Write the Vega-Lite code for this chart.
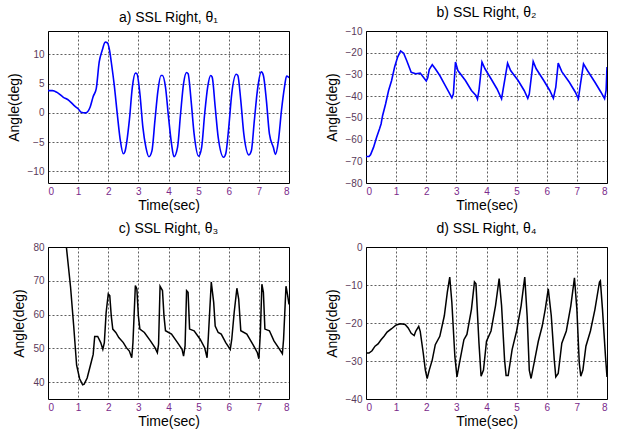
{
  "$schema": "https://vega.github.io/schema/vega-lite/v6.json",
  "padding": {"left": 6, "top": 5, "right": 5, "bottom": 5},
  "background": "white",
  "datasets": {
    "a": [{"t":0,"v":3.8},{"t":0.15,"v":3.8},{"t":0.3,"v":3.5},{"t":0.5,"v":2.7},{"t":0.7,"v":2.1},{"t":0.9,"v":1.1},{"t":1.0,"v":0.7},{"t":1.1,"v":0.1},{"t":1.25,"v":0},{"t":1.4,"v":1.0},{"t":1.5,"v":2.8},{"t":1.6,"v":4.1},{"t":1.7,"v":8.7},{"t":1.8,"v":10.7},{"t":1.9,"v":12.1},{"t":1.97,"v":12.0},{"t":2.05,"v":10.5},{"t":2.1,"v":8.7},{"t":2.2,"v":4.7},{"t":2.3,"v":-0.2},{"t":2.4,"v":-4.7},{"t":2.5,"v":-7.0},{"t":2.55,"v":-6.7},{"t":2.7,"v":-1.3},{"t":2.8,"v":4.4},{"t":2.9,"v":6.8},{"t":2.95,"v":6.7},{"t":3.05,"v":3.3},{"t":3.15,"v":-2.5},{"t":3.25,"v":-5.9},{"t":3.35,"v":-7.5},{"t":3.45,"v":-6.5},{"t":3.55,"v":-1.3},{"t":3.65,"v":3.8},{"t":3.75,"v":6.4},{"t":3.8,"v":6.4},{"t":3.9,"v":4.4},{"t":4.0,"v":-0.7},{"t":4.1,"v":-5.3},{"t":4.18,"v":-7.5},{"t":4.3,"v":-5.9},{"t":4.4,"v":-0.2},{"t":4.5,"v":5.0},{"t":4.6,"v":6.9},{"t":4.65,"v":6.7},{"t":4.75,"v":2.1},{"t":4.85,"v":-3.6},{"t":5.0,"v":-7.4},{"t":5.1,"v":-5.9},{"t":5.2,"v":-0.2},{"t":5.3,"v":4.4},{"t":5.4,"v":6.4},{"t":5.45,"v":6.1},{"t":5.55,"v":1.0},{"t":5.65,"v":-4.2},{"t":5.83,"v":-7.6},{"t":5.9,"v":-7.0},{"t":6.0,"v":-2.5},{"t":6.1,"v":3.3},{"t":6.25,"v":6.6},{"t":6.3,"v":6.4},{"t":6.4,"v":2.1},{"t":6.5,"v":-3.6},{"t":6.67,"v":-7.2},{"t":6.75,"v":-6.5},{"t":6.85,"v":-1.3},{"t":6.95,"v":3.8},{"t":7.08,"v":7.0},{"t":7.15,"v":6.4},{"t":7.25,"v":2.1},{"t":7.35,"v":-3.6},{"t":7.48,"v":-5.9},{"t":7.55,"v":-7.1},{"t":7.65,"v":-4.7},{"t":7.75,"v":0.4},{"t":7.85,"v":4.4},{"t":7.92,"v":6.3},{"t":8.0,"v":6.0}],
    "b": [{"t":0,"v":-67.8},{"t":0.1,"v":-67.8},{"t":0.15,"v":-67},{"t":0.25,"v":-63.6},{"t":0.35,"v":-59},{"t":0.45,"v":-55},{"t":0.5,"v":-52.8},{"t":0.55,"v":-49},{"t":0.65,"v":-43.6},{"t":0.75,"v":-37.4},{"t":0.85,"v":-32.8},{"t":0.95,"v":-26.6},{"t":1.05,"v":-22},{"t":1.15,"v":-19.2},{"t":1.25,"v":-20.2},{"t":1.35,"v":-23.6},{"t":1.5,"v":-29},{"t":1.65,"v":-29.7},{"t":1.8,"v":-29.4},{"t":1.9,"v":-31.2},{"t":2.0,"v":-33},{"t":2.05,"v":-31.5},{"t":2.1,"v":-27.8},{"t":2.2,"v":-25.5},{"t":2.3,"v":-27.4},{"t":2.45,"v":-30.5},{"t":2.6,"v":-34.3},{"t":2.75,"v":-38.2},{"t":2.85,"v":-40.8},{"t":2.9,"v":-39},{"t":2.97,"v":-24.3},{"t":3.05,"v":-28.2},{"t":3.3,"v":-32.8},{"t":3.5,"v":-37.4},{"t":3.65,"v":-39.7},{"t":3.7,"v":-41.4},{"t":3.75,"v":-37.4},{"t":3.85,"v":-24.3},{"t":3.95,"v":-27.4},{"t":4.15,"v":-32},{"t":4.35,"v":-36.7},{"t":4.5,"v":-41.2},{"t":4.7,"v":-24.8},{"t":4.8,"v":-28.2},{"t":5.05,"v":-32.8},{"t":5.25,"v":-37.4},{"t":5.37,"v":-41},{"t":5.42,"v":-39},{"t":5.55,"v":-24},{"t":5.65,"v":-27.4},{"t":5.9,"v":-32.8},{"t":6.1,"v":-37.4},{"t":6.22,"v":-41},{"t":6.3,"v":-35.9},{"t":6.38,"v":-24.8},{"t":6.5,"v":-28.7},{"t":6.75,"v":-33.6},{"t":6.95,"v":-38.2},{"t":7.05,"v":-41.2},{"t":7.12,"v":-34.3},{"t":7.22,"v":-25.1},{"t":7.35,"v":-28.2},{"t":7.6,"v":-33.6},{"t":7.8,"v":-38.2},{"t":7.92,"v":-41.2},{"t":7.97,"v":-37.4},{"t":8.0,"v":-26.6}],
    "c": [{"t":0.5,"v":89},{"t":0.61,"v":80},{"t":0.75,"v":68},{"t":0.85,"v":57},{"t":0.95,"v":45},{"t":1.05,"v":41},{"t":1.15,"v":39.2},{"t":1.2,"v":39.4},{"t":1.3,"v":41.2},{"t":1.4,"v":44.7},{"t":1.5,"v":48.2},{"t":1.55,"v":53.5},{"t":1.65,"v":53.5},{"t":1.75,"v":51.7},{"t":1.82,"v":49.7},{"t":1.87,"v":51.7},{"t":1.93,"v":60.6},{"t":2.0,"v":66.1},{"t":2.05,"v":65.6},{"t":2.1,"v":59.6},{"t":2.15,"v":55.7},{"t":2.25,"v":54.7},{"t":2.35,"v":53.2},{"t":2.5,"v":51.7},{"t":2.6,"v":50.2},{"t":2.7,"v":49.2},{"t":2.78,"v":47.2},{"t":2.82,"v":51.7},{"t":2.9,"v":68.6},{"t":2.95,"v":67.6},{"t":3.0,"v":59.6},{"t":3.05,"v":55.7},{"t":3.2,"v":54.7},{"t":3.4,"v":52.2},{"t":3.55,"v":50.2},{"t":3.63,"v":48.7},{"t":3.67,"v":51.2},{"t":3.72,"v":68.4},{"t":3.8,"v":67.1},{"t":3.85,"v":59.6},{"t":3.9,"v":55.2},{"t":4.1,"v":54.2},{"t":4.3,"v":51.7},{"t":4.45,"v":49.7},{"t":4.5,"v":47.7},{"t":4.55,"v":50.7},{"t":4.6,"v":67.1},{"t":4.65,"v":66.6},{"t":4.7,"v":55.7},{"t":4.85,"v":55.2},{"t":5.05,"v":52.7},{"t":5.2,"v":50.2},{"t":5.28,"v":47.2},{"t":5.32,"v":53},{"t":5.42,"v":69.6},{"t":5.5,"v":63.6},{"t":5.55,"v":56.6},{"t":5.65,"v":54.7},{"t":5.75,"v":54.2},{"t":5.9,"v":51.7},{"t":6.05,"v":49.7},{"t":6.1,"v":52.7},{"t":6.18,"v":60.6},{"t":6.27,"v":67.8},{"t":6.33,"v":64.6},{"t":6.4,"v":55.2},{"t":6.6,"v":54.2},{"t":6.8,"v":51.2},{"t":6.95,"v":48.7},{"t":7.0,"v":46.9},{"t":7.05,"v":54.7},{"t":7.1,"v":69},{"t":7.15,"v":66.6},{"t":7.2,"v":55.7},{"t":7.35,"v":55.2},{"t":7.5,"v":52.2},{"t":7.65,"v":50.2},{"t":7.78,"v":48.4},{"t":7.82,"v":52.7},{"t":7.9,"v":68.4},{"t":7.95,"v":66},{"t":8.0,"v":63}],
    "d": [{"t":0,"v":-27.9},{"t":0.1,"v":-27.9},{"t":0.2,"v":-27.3},{"t":0.3,"v":-26.1},{"t":0.4,"v":-25.5},{"t":0.5,"v":-24.4},{"t":0.6,"v":-23.5},{"t":0.7,"v":-22.4},{"t":0.85,"v":-21.5},{"t":1.0,"v":-20.5},{"t":1.15,"v":-20.2},{"t":1.3,"v":-20.4},{"t":1.4,"v":-21.3},{"t":1.5,"v":-22.7},{"t":1.6,"v":-23.3},{"t":1.65,"v":-22.2},{"t":1.75,"v":-20.9},{"t":1.8,"v":-22.2},{"t":1.9,"v":-27.9},{"t":1.97,"v":-32.4},{"t":2.03,"v":-34.6},{"t":2.1,"v":-32.4},{"t":2.2,"v":-29.7},{"t":2.3,"v":-25.7},{"t":2.45,"v":-23.5},{"t":2.6,"v":-18.1},{"t":2.7,"v":-11.9},{"t":2.78,"v":-7.9},{"t":2.85,"v":-14.6},{"t":2.95,"v":-28.8},{"t":3.02,"v":-34.2},{"t":3.1,"v":-30.6},{"t":3.25,"v":-24.4},{"t":3.35,"v":-23},{"t":3.5,"v":-16.4},{"t":3.6,"v":-9.2},{"t":3.65,"v":-9.7},{"t":3.75,"v":-25.3},{"t":3.82,"v":-34},{"t":3.9,"v":-32.4},{"t":4.0,"v":-24.8},{"t":4.15,"v":-22.1},{"t":4.3,"v":-15.4},{"t":4.42,"v":-8.3},{"t":4.5,"v":-15.4},{"t":4.6,"v":-29.7},{"t":4.65,"v":-33.8},{"t":4.72,"v":-33.8},{"t":4.85,"v":-27},{"t":5.0,"v":-22.1},{"t":5.15,"v":-15.4},{"t":5.27,"v":-7.9},{"t":5.35,"v":-18.3},{"t":5.42,"v":-32.4},{"t":5.48,"v":-34.6},{"t":5.6,"v":-29.7},{"t":5.72,"v":-24.8},{"t":5.85,"v":-20.8},{"t":5.95,"v":-16.4},{"t":6.05,"v":-11.0},{"t":6.15,"v":-18.1},{"t":6.25,"v":-29.7},{"t":6.3,"v":-34.2},{"t":6.38,"v":-33.3},{"t":6.5,"v":-25.3},{"t":6.65,"v":-22.1},{"t":6.8,"v":-15.4},{"t":6.92,"v":-8.1},{"t":7.0,"v":-16.4},{"t":7.08,"v":-30.6},{"t":7.13,"v":-34},{"t":7.2,"v":-32.4},{"t":7.3,"v":-26.1},{"t":7.45,"v":-22.1},{"t":7.6,"v":-16.4},{"t":7.75,"v":-9.2},{"t":7.78,"v":-8.9},{"t":7.85,"v":-16.4},{"t":7.95,"v":-28.8},{"t":8.0,"v":-34.2}]
  },
  "columns": 2,
  "spacing": {"row": 64, "column": 77},
  "bounds": "flush",
  "concat": [
    {
      "title": "a) SSL Right, θ₁",
      "width": 241, "height": 152,
      "data": {"name": "a"},
      "mark": {"type": "line", "color": "#0000ff", "strokeWidth": 1.6, "interpolate": "monotone", "clip": true},
      "encoding": {
        "x": {"field": "t", "type": "quantitative", "scale": {"domain": [0, 8], "nice": false}, "axis": {"values": [0,1,2,3,4,5,6,7,8], "title": "Time(sec)"}},
        "y": {"field": "v", "type": "quantitative", "scale": {"domain": [-12, 14], "nice": false, "zero": false}, "axis": {"values": [-10,-5,0,5,10], "title": "Angle(deg)"}}
      }
    },
    {
      "title": "b) SSL Right, θ₂",
      "width": 241, "height": 152,
      "data": {"name": "b"},
      "mark": {"type": "line", "color": "#0000ff", "strokeWidth": 1.6, "clip": true},
      "encoding": {
        "x": {"field": "t", "type": "quantitative", "scale": {"domain": [0, 8], "nice": false}, "axis": {"values": [0,1,2,3,4,5,6,7,8], "title": "Time(sec)"}},
        "y": {"field": "v", "type": "quantitative", "scale": {"domain": [-80, -10], "nice": false, "zero": false}, "axis": {"values": [-80,-70,-60,-50,-40,-30,-20,-10], "title": "Angle(deg)"}}
      }
    },
    {
      "title": "c) SSL Right, θ₃",
      "width": 241, "height": 152,
      "data": {"name": "c"},
      "mark": {"type": "line", "color": "#000000", "strokeWidth": 1.5, "clip": true},
      "encoding": {
        "x": {"field": "t", "type": "quantitative", "scale": {"domain": [0, 8], "nice": false}, "axis": {"values": [0,1,2,3,4,5,6,7,8], "title": "Time(sec)"}},
        "y": {"field": "v", "type": "quantitative", "scale": {"domain": [35, 80], "nice": false, "zero": false}, "axis": {"values": [40,50,60,70,80], "title": "Angle(deg)"}}
      }
    },
    {
      "title": "d) SSL Right, θ₄",
      "width": 241, "height": 152,
      "data": {"name": "d"},
      "mark": {"type": "line", "color": "#000000", "strokeWidth": 1.5, "clip": true},
      "encoding": {
        "x": {"field": "t", "type": "quantitative", "scale": {"domain": [0, 8], "nice": false}, "axis": {"values": [0,1,2,3,4,5,6,7,8], "title": "Time(sec)"}},
        "y": {"field": "v", "type": "quantitative", "scale": {"domain": [-40, 0], "nice": false, "zero": false}, "axis": {"values": [-40,-30,-20,-10,0], "title": "Angle(deg)"}}
      }
    }
  ],
  "config": {
    "view": {"stroke": "#000000", "strokeWidth": 1},
    "axis": {
      "grid": true, "gridColor": "#000000", "gridDash": [2, 2], "gridWidth": 0.7, "gridOpacity": 0.9,
      "domain": false, "ticks": false,
      "labelFont": "Liberation Sans", "labelFontSize": 10,
      "titleFont": "Liberation Sans", "titleFontSize": 14, "titleFontWeight": "normal", "titleColor": "#000000"
    },
    "axisX": {"labelColor": "#7a2a8a", "labelPadding": 3, "titlePadding": 2},
    "axisY": {"labelColor": "#5a3a5a", "labelPadding": 4, "titlePadding": 6},
    "title": {"font": "Liberation Sans", "fontSize": 14, "fontWeight": "normal", "color": "#000000", "offset": 6}
  }
}
